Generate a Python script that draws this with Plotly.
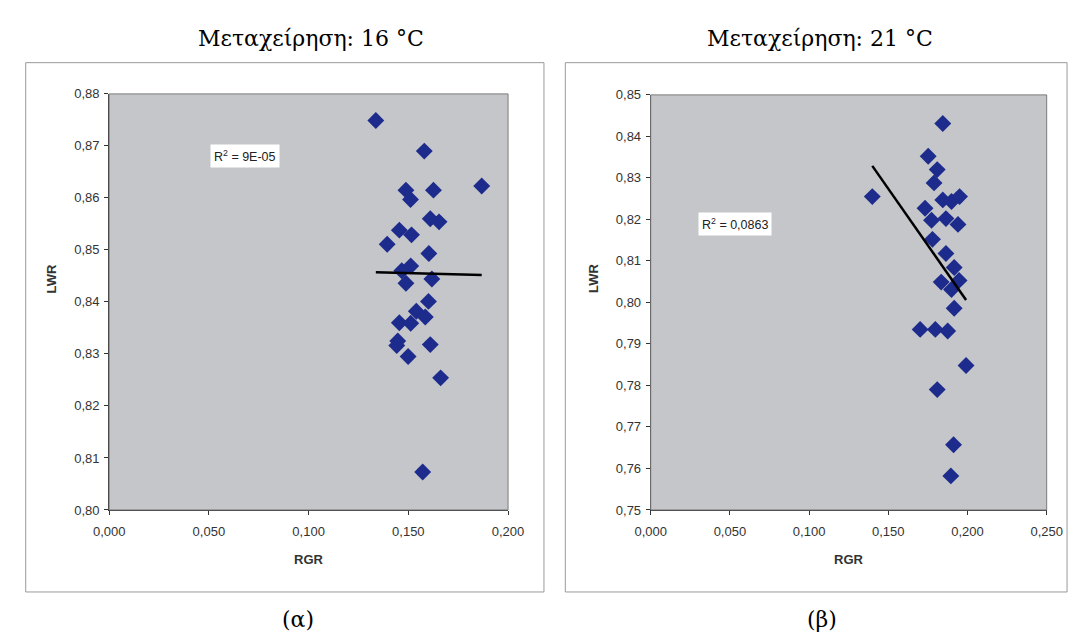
import plotly.graph_objects as go

# ---- Data ----
# (α) 16 °C
rgr_16 = [0.1337, 0.1580, 0.1488, 0.1626, 0.1868, 0.1511, 0.1610, 0.1654, 0.1455,
          0.1516, 0.1394, 0.1603, 0.1467, 0.1512, 0.1488, 0.1618, 0.1601, 0.1540,
          0.1585, 0.1455, 0.1512, 0.1447, 0.1442, 0.1610, 0.1499, 0.1662, 0.1572]
lwr_16 = [0.8749, 0.8690, 0.8615, 0.8615, 0.8623, 0.8597, 0.8560, 0.8554, 0.8538,
          0.8529, 0.8511, 0.8493, 0.8460, 0.8469, 0.8436, 0.8444, 0.8401, 0.8382,
          0.8371, 0.8360, 0.8359, 0.8325, 0.8316, 0.8318, 0.8295, 0.8254, 0.8073]
trend_x_16 = [0.1337, 0.1868]
trend_y_16 = [0.8457, 0.8452]
r2_16 = "R<sup>2</sup> = 9E-05"

# (β) 21 °C
rgr_21 = [0.1399, 0.1844, 0.1752, 0.1809, 0.1789, 0.1844, 0.1899, 0.1950, 0.1732,
          0.1773, 0.1864, 0.1940, 0.1779, 0.1864, 0.1916, 0.1947, 0.1834, 0.1899,
          0.1916, 0.1701, 0.1797, 0.1875, 0.1991, 0.1809, 0.1912, 0.1895]
lwr_21 = [0.8255, 0.8431, 0.8352, 0.8320, 0.8288, 0.8247, 0.8243, 0.8255, 0.8227,
          0.8198, 0.8202, 0.8188, 0.8152, 0.8118, 0.8084, 0.8053, 0.8049, 0.8031,
          0.7986, 0.7935, 0.7935, 0.7931, 0.7848, 0.7790, 0.7657, 0.7582]
trend_x_21 = [0.1399, 0.1991]
trend_y_21 = [0.8329, 0.8006]
r2_21 = "R<sup>2</sup> = 0,0863"

titles = ["Μεταχείρηση: 16 °C", "Μεταχείρηση: 21 °C"]
panel_labels = ["(α)", "(β)"]
x_title = "RGR"
y_title = "LWR"

# ---- Figure ----
W, H = 1085, 641
def px(x):
    return x / W
def py(y):
    return 1 - y / H

MARKER = "#1d2b8c"
PLOTBG = "#c5c6c9"
AXC = "#333333"
SANS = "Liberation Sans, Arial"
SERIF = "DejaVu Serif, Liberation Serif, serif"
TICKFONT = dict(family=SANS, size=13, color="#333333")

fig = go.Figure()

fig.add_trace(go.Scatter(x=rgr_16, y=lwr_16, mode="markers", xaxis="x", yaxis="y",
                         marker=dict(symbol="diamond", size=13, color=MARKER,
                                     line=dict(width=0)), showlegend=False))
fig.add_trace(go.Scatter(x=trend_x_16, y=trend_y_16, mode="lines", xaxis="x", yaxis="y",
                         line=dict(color="black", width=2.5), showlegend=False))
fig.add_trace(go.Scatter(x=rgr_21, y=lwr_21, mode="markers", xaxis="x2", yaxis="y2",
                         marker=dict(symbol="diamond", size=13, color=MARKER,
                                     line=dict(width=0)), showlegend=False))
fig.add_trace(go.Scatter(x=trend_x_21, y=trend_y_21, mode="lines", xaxis="x2", yaxis="y2",
                         line=dict(color="black", width=2.5), showlegend=False))

# plot areas in pixels
L = dict(x0=96, x1=507, y0=89, y1=515)
R = dict(x0=654, x1=1062, y0=90, y1=515)

axis_common = dict(showgrid=False, zeroline=False, showline=True, linecolor=AXC,
                   linewidth=1, ticks="outside", ticklen=4, tickcolor=AXC,
                   tickfont=TICKFONT, mirror=False)

fig.update_layout(
    width=W, height=H, margin=dict(l=0, r=0, t=0, b=0),
    paper_bgcolor="white", plot_bgcolor=PLOTBG, separators=", ",
    xaxis=dict(domain=[px(L["x0"]), px(L["x1"])], range=[0, 0.2], dtick=0.05,
               tickformat=".3f", anchor="y", ticklabelstandoff=5, **axis_common),
    yaxis=dict(domain=[py(L["y1"]), py(L["y0"])], range=[0.80, 0.88], dtick=0.01,
               tickformat=".2f", anchor="x", ticklabelstandoff=2, **axis_common),
    xaxis2=dict(domain=[px(R["x0"]), px(R["x1"])], range=[0, 0.25], dtick=0.05,
                tickformat=".3f", anchor="y2", ticklabelstandoff=5, **axis_common),
    yaxis2=dict(domain=[py(R["y1"]), py(R["y0"])], range=[0.75, 0.85], dtick=0.01,
                tickformat=".2f", anchor="x2", ticklabelstandoff=2, **axis_common),
)

shapes = []
# chart-area frames
for (x0, x1) in [(10, 544), (566, 1083)]:
    shapes.append(dict(type="rect", xref="paper", yref="paper",
                       x0=px(x0), x1=px(x1), y0=py(599), y1=py(57),
                       line=dict(color="#9a9a9a", width=1), fillcolor="rgba(0,0,0,0)",
                       layer="below"))
# plot area borders
for P in (L, R):
    shapes.append(dict(type="rect", xref="paper", yref="paper",
                       x0=px(P["x0"]), x1=px(P["x1"]), y0=py(P["y1"]), y1=py(P["y0"]),
                       line=dict(color="#7a7a7a", width=1), fillcolor="rgba(0,0,0,0)",
                       layer="above"))
fig.update_layout(shapes=shapes)

ann = []
# R² labels
ann.append(dict(text=r2_16, xref="paper", yref="paper", x=px(200), y=py(140),
                showarrow=False, bgcolor="white", borderpad=3,
                font=dict(family=SANS, size=12.5, color="#222")))
ann.append(dict(text=r2_21, xref="paper", yref="paper", x=px(779), y=py(210),
                showarrow=False, bgcolor="white", borderpad=3,
                font=dict(family=SANS, size=12.5, color="#222")))
# axis titles
for cx in [(L["x0"] + L["x1"]) / 2, (R["x0"] + R["x1"]) / 2]:
    ann.append(dict(text="<b>%s</b>" % x_title, xref="paper", yref="paper", x=px(cx),
                    y=py(566), showarrow=False, xanchor="center", yanchor="middle",
                    font=dict(family=SANS, size=13, color="#333")))
for cx in [37, 595]:
    ann.append(dict(text="<b>%s</b>" % y_title, xref="paper", yref="paper", x=px(cx),
                    y=py(278), showarrow=False, xanchor="center", yanchor="middle",
                    textangle=-90, font=dict(family=SANS, size=13, color="#333")))
# Titles
for t, cx in zip(titles, [304, 828]):
    ann.append(dict(text=t, xref="paper", yref="paper", x=px(cx), y=py(32),
                    showarrow=False, xanchor="center", yanchor="middle",
                    font=dict(family=SERIF, size=22, color="black")))
for t, cx in zip(panel_labels, [291, 830]):
    ann.append(dict(text=t, xref="paper", yref="paper", x=px(cx), y=py(627),
                    showarrow=False, xanchor="center", yanchor="middle",
                    font=dict(family=SERIF, size=22, color="black")))
fig.update_layout(annotations=ann)

fig.write_html("out.html")
